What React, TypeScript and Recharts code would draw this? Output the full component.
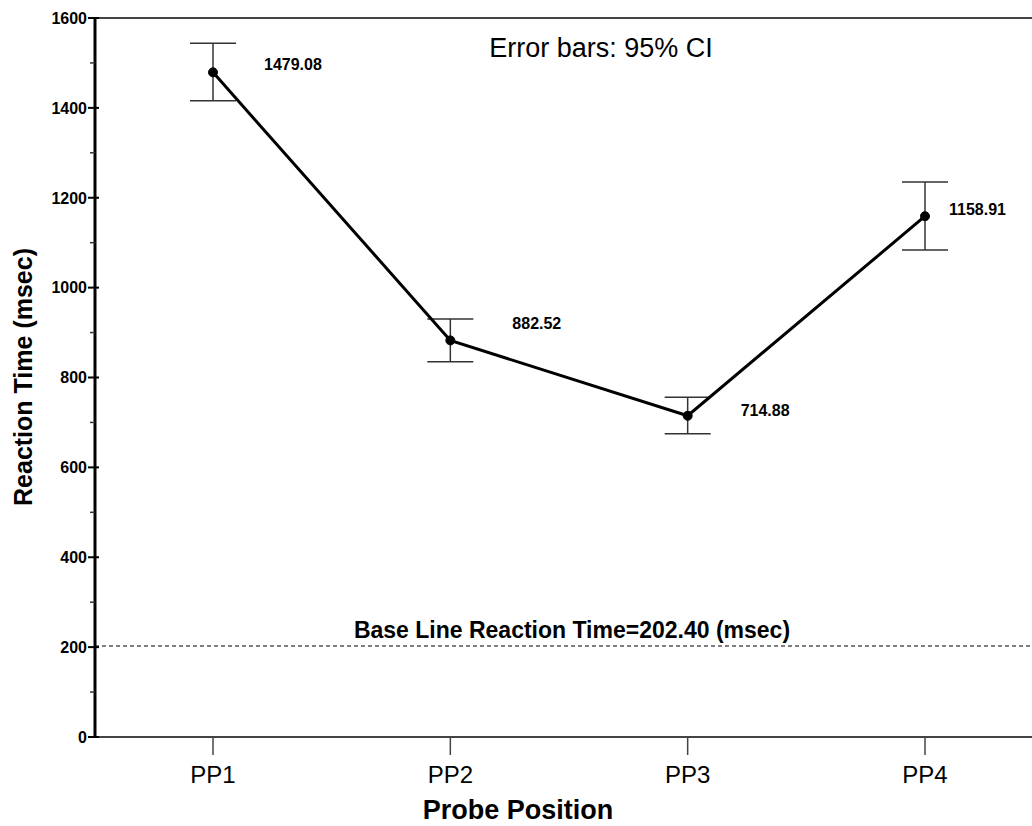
import React from 'react';
import {
  LineChart,
  Line,
  XAxis,
  YAxis,
  ErrorBar,
  ReferenceLine,
  LabelList,
} from 'recharts';

// ---- data ----
const categories = ['PP1', 'PP2', 'PP3', 'PP4'];
const meanRT = [1479.08, 882.52, 714.88, 1158.91];
const ciLower = [1416, 835, 675, 1084];
const ciUpper = [1544, 930, 756, 1235];
const yTicks = [0, 100, 200, 300, 400, 500, 600, 700, 800, 900, 1000, 1100, 1200, 1300, 1400, 1500, 1600];
const yMajorTicks = [0, 200, 400, 600, 800, 1000, 1200, 1400, 1600];
const baselineRT = 202.4;

// label placement offsets relative to each point (style, not data)
const LABEL_DX = [51, 62, 53, 24];
const LABEL_DY = [-2, -11, 0, -1];

const FONT = '"Liberation Sans", Arial, Helvetica, sans-serif';

const data = categories.map((c, i) => ({
  pos: c,
  rt: meanRT[i],
  err: [meanRT[i] - ciLower[i], ciUpper[i] - meanRT[i]],
}));

const YTick = (props: any) => {
  const { x, y, payload } = props;
  const v = payload.value;
  const major = yMajorTicks.includes(v);
  return (
    <g>
      {major ? (
        <line x1={x - 7} y1={y} x2={x + 4} y2={y} stroke="#000" strokeWidth={2} />
      ) : (
        <line x1={x - 5} y1={y} x2={x} y2={y} stroke="#333" strokeWidth={1.5} />
      )}
      {major && (
        <text
          x={x - 8}
          y={y}
          dy="0.36em"
          textAnchor="end"
          fontFamily={FONT}
          fontWeight="bold"
          fontSize={16}
          fill="#000"
        >
          {v}
        </text>
      )}
    </g>
  );
};

const XTitle = () => (
  <text
    x={518}
    y={819}
    textAnchor="middle"
    fontFamily={FONT}
    fontWeight="bold"
    fontSize={27}
    fill="#000"
  >
    Probe Position
  </text>
);

const YTitle = () => (
  <text
    x={32}
    y={377}
    transform="rotate(-90, 32, 377)"
    textAnchor="middle"
    fontFamily={FONT}
    fontWeight="bold"
    fontSize={25}
    fill="#000"
  >
    Reaction Time (msec)
  </text>
);

const TopTitle = () => (
  <text
    x={601}
    y={57}
    textAnchor="middle"
    fontFamily={FONT}
    fontSize={27}
    fill="#000"
  >
    Error bars: 95% CI
  </text>
);

const ValueLabel = (props: any) => {
  const { x, y, value, index } = props;
  return (
    <text
      x={x + LABEL_DX[index]}
      y={y + LABEL_DY[index]}
      textAnchor="start"
      fontFamily={FONT}
      fontWeight="bold"
      fontSize={16}
      fill="#000"
    >
      {Number(value).toFixed(2)}
    </text>
  );
};

export default function App() {
  return (
    <div
      style={{
        position: 'fixed',
        left: 0,
        top: 0,
        width: 1032,
        height: 826,
        overflow: 'hidden',
        background: '#fff',
      }}
    >
      <LineChart
        width={1050}
        height={826}
        data={data}
        margin={{ top: 18, right: 7, bottom: 0, left: 0 }}
      >
        <XAxis
          dataKey="pos"
          height={89}
          padding={{ left: 118, right: 118 }}
          axisLine={{ stroke: '#444', strokeWidth: 2 }}
          tickLine={{ stroke: '#444', strokeWidth: 1.5 }}
          tickSize={18}
          tickMargin={11}
          tick={{ fill: '#000', fontSize: 24, fontFamily: FONT }}
          interval={0}
          label={<XTitle />}
        />
        <YAxis
          type="number"
          domain={[0, 1600]}
          ticks={yTicks}
          interval={0}
          width={95}
          axisLine={{ stroke: '#000', strokeWidth: 3 }}
          tickLine={false}
          tickSize={0}
          tickMargin={0}
          tick={<YTick />}
          label={<YTitle />}
        />
        <ReferenceLine
          y={1600}
          stroke="#444"
          strokeWidth={2}
          label={<TopTitle />}
        />
        <ReferenceLine
          y={baselineRT}
          stroke="#555"
          strokeWidth={1.5}
          strokeDasharray="4 3"
          label={{
            value: 'Base Line Reaction Time=202.40 (msec)',
            position: 'top',
            offset: 8,
            dx: 3,
            fill: '#000',
            fontSize: 23,
            fontWeight: 'bold',
            fontFamily: FONT,
          }}
        />
        <Line
          dataKey="rt"
          stroke="#000"
          strokeWidth={3}
          dot={{ r: 4.5, fill: '#000', stroke: '#000', strokeWidth: 1 }}
          activeDot={false}
          isAnimationActive={false}
        >
          <ErrorBar
            dataKey="err"
            direction="y"
            width={23}
            stroke="#333"
            strokeWidth={1.5}
            isAnimationActive={false}
          />
          <LabelList dataKey="rt" content={<ValueLabel />} />
        </Line>
      </LineChart>
    </div>
  );
}
